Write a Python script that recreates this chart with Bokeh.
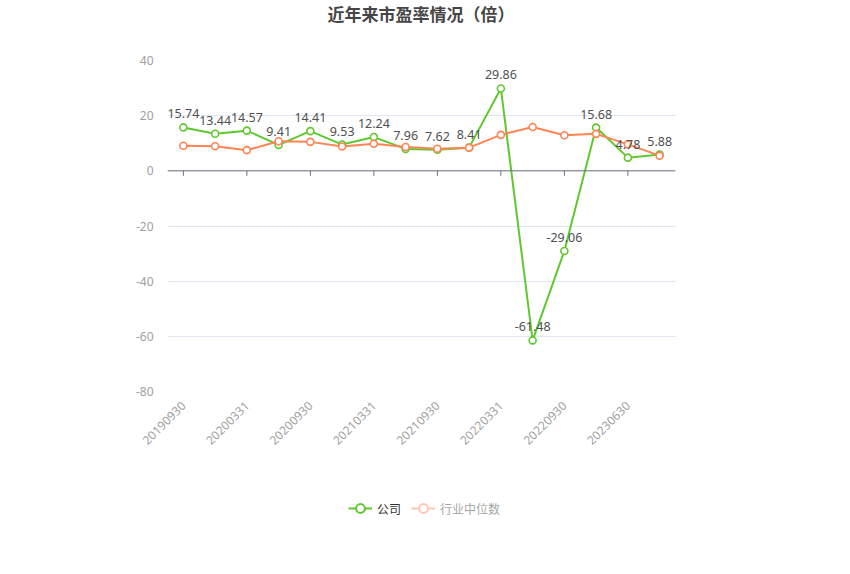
import numpy as np
from bokeh.plotting import figure
from bokeh.layouts import column
from bokeh.models import (Range1d, FixedTicker, ColumnDataSource, Span, Label,
                          Legend, LegendItem)
from bokeh.core.properties import value
from bokeh.embed import file_html
from bokeh.resources import INLINE

# ---- data ----
dates = ["20190930", "20191231", "20200331", "20200630", "20200930", "20201231",
         "20210331", "20210630", "20210930", "20211231", "20220331", "20220630",
         "20220930", "20230331", "20230630", "20230930"]
company = [15.74, 13.44, 14.57, 9.41, 14.41, 9.53, 12.24, 7.96, 7.62, 8.41,
           29.86, -61.48, -29.06, 15.68, 4.78, 5.88]
industry = [9.1, 8.9, 7.5, 10.7, 10.5, 8.8, 9.8, 8.65, 8.0, 8.4,
            13.05, 15.9, 12.9, 13.4, 9.6, 5.5]
y_ticks = [-80, -60, -40, -20, 0, 20, 40]
title_text = "近年来市盈率情况（倍）"
name_company = "公司"
name_industry = "行业中位数"

GREEN = "#5ec82f"
ORANGE = "#fe8453"
CJK = "Noto Sans CJK SC"
NUM = "Noto Sans"

xs = list(range(len(dates)))
label_idx = xs[::2]


def strip(h):
    f = figure(width=850, height=h, output_backend="svg", toolbar_location=None,
               x_range=Range1d(0, 1), y_range=Range1d(0, 1),
               x_axis_location=None, y_axis_location=None, outline_line_color=None,
               min_border_left=0, min_border_right=0, min_border_top=0,
               min_border_bottom=0, title=None)
    f.xgrid.visible = False
    f.ygrid.visible = False
    return f


# ---- title strip ----
tf = strip(30)
tf.add_layout(Label(x=253.5, y=17, x_units="screen", y_units="screen",
                    text=title_text, text_align="center", text_baseline="middle",
                    text_font=CJK, text_font_size="17px", text_font_style="bold",
                    text_color="#464646"))

# ---- main chart ----
p = figure(width=850, height=450, output_backend="svg", toolbar_location=None,
           x_range=Range1d(-0.5, len(dates) - 0.5), y_range=Range1d(-80, 40),
           min_border_left=167, min_border_right=175, min_border_top=30,
           min_border_bottom=89, outline_line_color=None, title=None)

p.xaxis.ticker = FixedTicker(ticks=label_idx)
p.xaxis.major_label_overrides = {i: dates[i] for i in label_idx}
p.xaxis.major_label_orientation = np.pi / 4
p.xaxis.axis_line_color = None
p.xaxis.major_tick_line_color = None
p.xaxis.minor_tick_line_color = None
p.xaxis.major_label_standoff = 6
p.xaxis.major_label_text_color = "#a0a0a0"
p.xaxis.major_label_text_font = NUM
p.xaxis.major_label_text_font_size = "12px"

p.yaxis.ticker = FixedTicker(ticks=y_ticks)
p.yaxis.major_label_overrides = {t: str(t) for t in y_ticks}
p.yaxis.axis_line_color = None
p.yaxis.major_tick_line_color = None
p.yaxis.minor_tick_line_color = None
p.yaxis.major_label_standoff = 8
p.yaxis.major_label_text_color = "#a0a0a0"
p.yaxis.major_label_text_font = NUM
p.yaxis.major_label_text_font_size = "12px"

p.xgrid.grid_line_color = None
p.ygrid.grid_line_color = "#e0e6f1"
p.ygrid.ticker = FixedTicker(ticks=y_ticks)

# zero axis line with ticks
p.add_layout(Span(location=0, dimension="width", line_color="#6e7079", line_width=1))
tick_src = ColumnDataSource(dict(x=label_idx, y0=[0] * len(label_idx),
                                 y1=[-1.8] * len(label_idx)))
p.segment(x0="x", x1="x", y0="y0", y1="y1", source=tick_src,
          line_color="#6e7079", line_width=1)

# series
src = ColumnDataSource(dict(x=xs, c=company, i=industry,
                            lab=[f"{v:.2f}" for v in company]))
p.line("x", "c", source=src, line_color=GREEN, line_width=2)
p.scatter("x", "c", source=src, size=7, fill_color="white",
          line_color=GREEN, line_width=1.6)
p.line("x", "i", source=src, line_color=ORANGE, line_width=2)
p.scatter("x", "i", source=src, size=7, fill_color="white",
          line_color=ORANGE, line_width=1.6)

p.text("x", "c", text="lab", source=src, y_offset=-9, text_align="center",
       text_baseline="bottom", text_color="#505050", text_font=value(NUM),
       text_font_size="12.5px")

# ---- legend strip ----
lf = strip(94)
dummy = ColumnDataSource(dict(x=[np.nan], y=[np.nan]))
lg1 = lf.line("x", "y", source=dummy, line_color=GREEN, line_width=2)
lg1m = lf.scatter("x", "y", source=dummy, size=10, fill_color="white",
                  line_color=GREEN, line_width=2)
lg2 = lf.line("x", "y", source=dummy, line_color=ORANGE, line_width=2, visible=False)
lg2m = lf.scatter("x", "y", source=dummy, size=10, fill_color="white",
                  line_color=ORANGE, line_width=2, visible=False)

legend = Legend(items=[LegendItem(label=name_company, renderers=[lg1, lg1m]),
                       LegendItem(label=name_industry, renderers=[lg2, lg2m])],
                location=(181, 55), orientation="horizontal", click_policy="hide",
                inactive_fill_color="white", inactive_fill_alpha=0.55,
                glyph_width=24, glyph_height=22, label_height=22,
                label_standoff=5, padding=0, margin=0, spacing=10,
                border_line_color=None, background_fill_alpha=0,
                label_text_font=CJK, label_text_font_size="12px",
                label_text_color="#333333")
lf.add_layout(legend)

layout = column(tf, p, lf, spacing=0)
open("out.html", "w").write(file_html(layout, INLINE))
